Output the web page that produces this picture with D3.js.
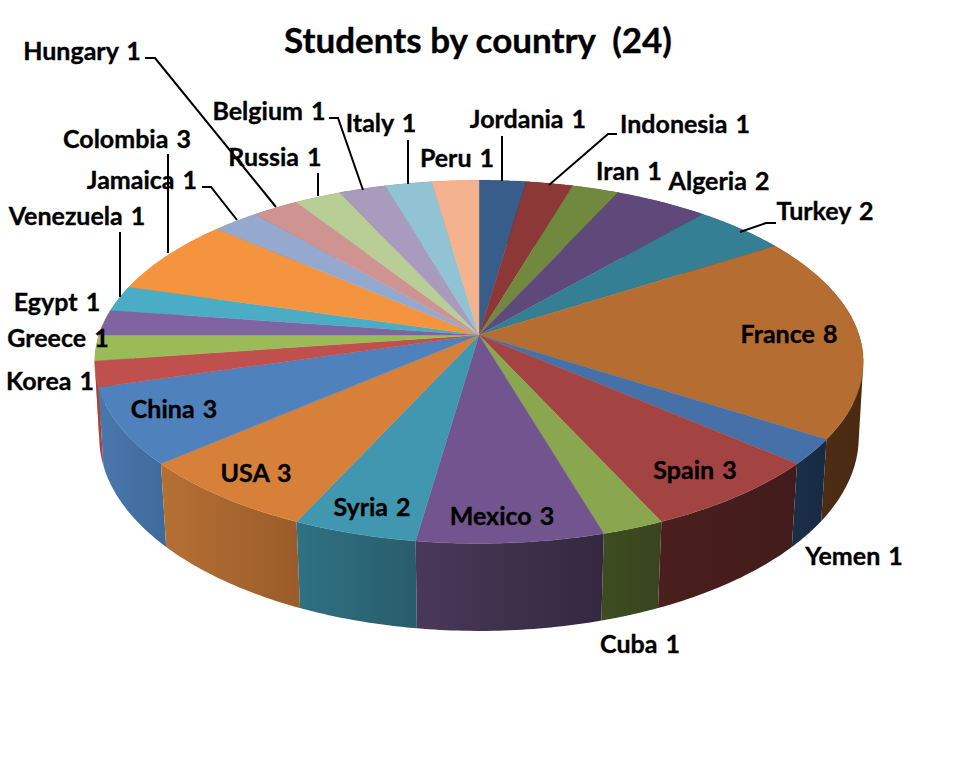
<!DOCTYPE html>
<html><head><meta charset="utf-8">
<script src="https://cdn.jsdelivr.net/npm/d3@7"></script>
<style>html,body{margin:0;padding:0;background:#fff}svg{display:block}
text{font-family:Lato,"Open Sans",sans-serif;font-weight:700;fill:#000;stroke:#000;stroke-width:.35px}</style>
</head><body><svg id="c" width="956" height="762"></svg>
<script>
const countries=["Jordania","Indonesia","Iran","Algeria","Turkey","France","Yemen","Spain","Cuba","Mexico","Syria","USA","China","Korea","Greece","Egypt","Venezuela","Colombia","Jamaica","Hungary","Russia","Belgium","Italy","Peru"];
const students=[1,1,1,2,2,8,1,3,1,3,2,3,3,1,1,1,1,3,1,1,1,1,1,1];
const topColors=["#385D8A","#8C3836","#71893F","#5F497A","#357F94","#B66D31","#4671A8","#A44442","#8AA64E","#72558E","#4197AF","#D6803A","#4F81BD","#C0504D","#9BBB59","#8064A2","#4BACC6","#F4943F","#95A9CF","#CF9391","#B9CD96","#A99BBD","#92C3D4","#F5B28E"];
const sideLeft=["#1c2e45","#461c1b","#38441f","#2f243d","#1a3f4a","#4f3115","#1b2f4a","#4a1f1e","#3e4d20","#4a3859","#2e7283","#b57033","#4a77ad","#b5413f","#6f8640","#5b4774","#367c8e","#b06b32","#6a7994","#946968","#84926b","#786e87","#688b97","#ae7f65"];
const sideRight=["#1c2e45","#461c1b","#38441f","#2f243d","#1a3f4a","#4a2a12","#182a42","#431b1b","#38441f","#33283f","#2a5c6b","#9a5c2a","#3f6a9c","#a83b39","#6f8640","#5b4774","#367c8e","#b06b32","#6a7994","#946968","#84926b","#786e87","#688b97","#ae7f65"];
const titleText="Students by country\u00a0\u00a0(24)";
// label layout: centre x, baseline y
const labelPos={Hungary:[82,60],Belgium:[269,120],Italy:[381,132],Peru:[457,167],Jordania:[528,128],Indonesia:[685,133],Iran:[629,180],Algeria:[719,190],Turkey:[825,220],Colombia:[127,148],Russia:[275,166],Jamaica:[142,189],Venezuela:[77,225],Egypt:[57,311],Greece:[58,347],Korea:[50,390],China:[174,418],USA:[256,482],Syria:[372,516],Mexico:[502,525],Spain:[695,479],France:[789,343],Yemen:[854,565],Cuba:[640,653]};
const leaders=[[[145,58],[155,58],[276,207]],[[329,118],[338,118],[363,190]],[[318,173],[318,196]],[[168,154],[168,253]],[[202,187],[211,187],[237,220]],[[120,232],[120,297]],[[408,140],[408,184]],[[502,136],[502,181]],[[617,134],[608,134],[549,185]],[[776,223],[766,223],[740,232]]];

const svg=d3.select("#c");
const pie=d3.pie().sort(null).value(d=>d)(students);
const topFace={a:380,b:177.6,c:335,p:.148}, botFace={a:376,b:190,c:410,p:.14}, cx=479;
const project=(f,t)=>{const u=Math.sin(t),v=-Math.cos(t),w=1-f.p*v;return [cx+f.a*u/w,f.c+f.b*v/w];};
const samples=(d)=>d3.range(0,33).map(i=>d.startAngle+(d.endAngle-d.startAngle)*i/32);
const line=d3.line();
const defs=svg.append("defs");
pie.forEach((d,i)=>{
  const pts=samples(d).map(t=>project(topFace,t)).concat(samples(d).map(t=>project(botFace,t)));
  const ex=d3.extent(pts,p=>p[0]);
  const g=defs.append("linearGradient").attr("id","s"+i).attr("gradientUnits","userSpaceOnUse")
    .attr("x1",ex[0]).attr("x2",ex[1]).attr("y1",0).attr("y2",0);
  g.append("stop").attr("offset",0).attr("stop-color",sideLeft[i]);
  g.append("stop").attr("offset",1).attr("stop-color",sideRight[i]);
});
const order=pie.map((d,i)=>i).sort((a,b)=>{
  const m=d=>-Math.cos((d.startAngle+d.endAngle)/2);return m(pie[a])-m(pie[b]);});
// each side is a strip of quads so the silhouette follows the top-to-bottom tangent
const sidePath=d=>{const s=samples(d);return d3.pairs(s).map(([t0,t1])=>{
  const q=[project(topFace,t0),project(topFace,t1),project(botFace,t1),project(botFace,t0)];
  // keep every quad wound the same way
  const area=d3.polygonArea(q);
  return line(area<0?q.slice().reverse():q)+"Z";}).join("");};
svg.append("g").selectAll("path").data(order).join("path")
  .attr("d",i=>sidePath(pie[i]))
  .attr("fill",i=>`url(#s${i})`);
svg.append("g").selectAll("path").data(pie).join("path")
  .attr("d",d=>line([[cx,topFace.c]].concat(samples(d).map(t=>project(topFace,t))))+"Z")
  .attr("fill",(d,i)=>topColors[i]).attr("stroke",(d,i)=>topColors[i]).attr("stroke-width",.4);
svg.append("g").selectAll("path").data(leaders).join("path")
  .attr("d",l=>line(l)).attr("fill","none").attr("stroke","#000").attr("stroke-width",2);
svg.append("g").selectAll("text").data(countries).join("text")
  .attr("x",c=>labelPos[c][0]).attr("y",c=>labelPos[c][1])
  .attr("text-anchor","middle").attr("font-size",25).attr("word-spacing",2)
  .text((c,i)=>c+" "+students[i]);
svg.append("text").attr("x",478).attr("y",53).attr("text-anchor","middle").attr("font-size",35).text(titleText);
</script></body></html>
